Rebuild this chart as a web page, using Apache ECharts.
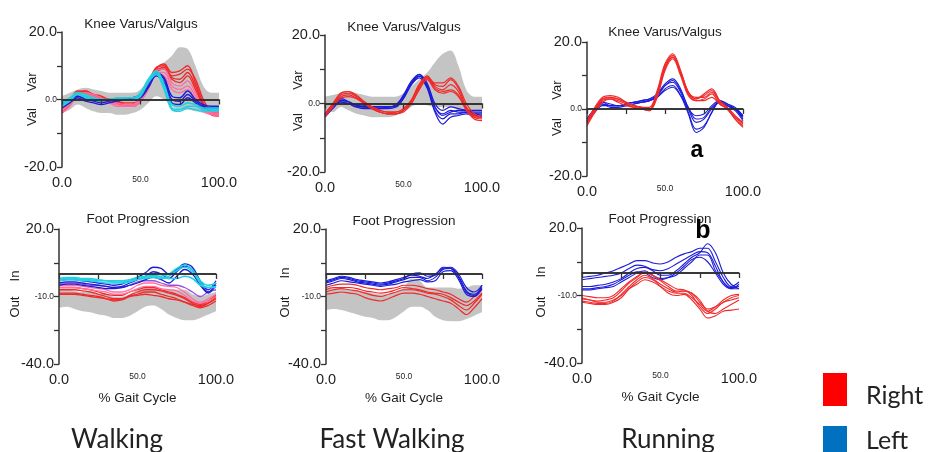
<!DOCTYPE html>
<html><head><meta charset="utf-8">
<script src="https://cdn.jsdelivr.net/npm/echarts@6/dist/echarts.min.js"></script>
<style>html,body{margin:0;padding:0;background:#fff}#c{width:929px;height:452px}</style>
</head><body><div id="c"></div><script>
// % gait cycle sample points
const gaitPct = [0,5,10,15,20,25,30,35,40,45,50,55,60,65,70,75,80,85,90,95,100];

// ---------- Walking: Knee Varus/Valgus ----------
const walkKneeNormUpper = [1,2,3,3.5,3,2.5,2,2,2,2,3,6,9,11,13,15.5,15,10,4,2,2];
const walkKneeNormLower = [-4,-3,-1.5,-2.5,-3.5,-4,-4,-4.5,-4.5,-4,-3,-1,1,0,-2,-3,-3,-3.5,-4,-4.5,-5];
const walkKneeRight = [
  [-3.5,-1,2,2.5,1.5,0.5,0,-0.5,-1.5,-1.5,0,4,9,10.5,8,8.5,10,5,-1,-4,-4.5],
  [-3,-0.5,2.5,2,1,0.5,0,-1,-2,-1.5,0.5,5,9.5,10,7,7.5,9,6,0,-3.5,-4],
  [-4,-1.5,1.5,2,1.5,1,0,-0.5,-1,-1,0,4.5,8.5,9.5,6.5,6,8,4,-1.5,-4,-4],
  [-3,-1,2,2.5,1,0,-0.5,-1,-1.5,-2,-0.5,3.5,8,9,6,5,7,3,-2,-4.5,-5]
];
const walkKneeRightPink = [
  [-3,-1.5,1,1.5,1,0,-1,-1.5,-2,-2,-0.5,3,8,8,4,3,4,1,-3,-4,-4.5],
  [-4,-2,1,1,0.5,-0.5,-1,-2,-2,-2,0,3.5,7.5,7,3,2,3,0,-3.5,-4.5,-5],
  [-3.5,-1,1.5,2,1.5,0.5,-0.5,-1,-1.5,-1.5,0.5,4,8.5,9,5,4,5.5,2,-2.5,-4,-4]
];
const walkKneeLeft = [
  [-2,-0.5,1,0,-0.5,-1,-0.5,0,0,0,1,4,7.5,6,0,-0.5,1.5,-0.5,-2,-2.5,-2.5],
  [-2.5,-1,0.5,-0.5,-1,-1.5,-1,-0.5,0,0,0.5,3.5,7,5,-1,-1.5,0.5,-1,-2.5,-3,-3],
  [-1.5,0,1,0.5,0,-0.5,0,0,0,0.5,1.5,5,8,6.5,1,0.5,2.5,0,-1.5,-2,-2]
];
const walkKneeLeftCyan = [
  [-1.5,0,2,1,0.5,0,0,0,0,0,1.5,5.5,8,4,-2.5,-3,-2,-2,-3,-3,-3],
  [-2,-0.5,1.5,0.5,0,-0.5,0,0,0,0,1,5,7.5,3,-3,-3.5,-2.5,-3,-3.5,-3.5,-3.5],
  [-1,0.5,2,1.5,0.5,0,0,0.5,0.5,0.5,2,6,8.5,4.5,-1.5,-2,-1,-1.5,-2.5,-2.5,-2.5]
];

// ---------- Fast Walking: Knee Varus/Valgus ----------
const fastKneeNormUpper = [2,2.5,3,3.5,3,2.5,2,2,2,2,3,5,7,9,12,14.5,15.5,11,4,2,2];
const fastKneeNormLower = [-2,-2.5,-1,-2,-3,-3.5,-4,-4,-4,-3.5,-2.5,-1,0,-0.5,-1,-1,-1,-2,-3,-3.5,-4];
const fastKneeRight = [
  [-3,0,3,3.5,2.5,0.5,-1,-2.5,-3,-3,-2,0.5,5,8,5.5,5,7,4.5,-1,-3.5,-4],
  [-3.5,-0.5,2.5,3,2,0,-1.5,-2.5,-3,-3,-2,0,4.5,7.5,5,4,5.5,3.5,-1.5,-4,-4.5],
  [-3,-0.5,2,2.5,1.5,0,-1,-2,-2.5,-2.5,-1.5,1,5.5,7.5,4.5,3.5,4,2.5,-1.5,-4,-4],
  [-4,-1,1.5,2,1.5,0,-1.5,-2.5,-3,-3,-2.5,0,4,7,4,3,3.5,2,-2,-4.5,-5],
  [-3,0,3,3.5,2,0.5,-1,-2,-2.5,-2.5,-1.5,1,5.5,8,6,6,7.5,5,0,-3,-4]
];
const fastKneeLeft = [
  [-3,-0.5,1,0.5,-0.5,-1,-1,-1,-1,-0.5,2,6,8.5,6,0,-2,-1,-1.5,-2,-2.5,-2.5],
  [-3.5,-1,0.5,0,-1,-1,-1.5,-1.5,-1,-1,1.5,5.5,8,5,-1,-3,-2,-2.5,-2.5,-3,-3],
  [-3,-0.5,1.5,0.5,-0.5,-0.5,-1,-1,-1,-0.5,2.5,6.5,8.5,5,-2,-4.5,-3,-3,-2.5,-3,-3.5],
  [-4,-1.5,0.5,0,-1,-1.5,-1.5,-1.5,-1.5,-1,1.5,5.5,7.5,4.5,-2.5,-6,-4,-3.5,-3,-3.5,-4],
  [-3,-1,1,0.5,-0.5,-1,-1,-1,-1,-0.5,2,6,8,5.5,-1,-3.5,-2.5,-2,-2,-2,-2]
];

// ---------- Running: Knee Varus/Valgus ----------
const runKneeRight = [
  [-4,0,3,3.5,3,2,1,0.5,0,5,13,16,11,5,3,4,5.5,2,0,-2.5,-4.5],
  [-4.5,-0.5,2.5,3,2.5,1.5,0.5,0,-0.5,4,12,15.5,10.5,4.5,2.5,3,4.5,1.5,0,-3,-5],
  [-3.5,0.5,3.5,4,3.5,2,1,0.5,0.5,5.5,13.5,16.5,11.5,5,3.5,3.5,5,2.5,0.5,-2,-4],
  [-5,-1,2,3,2,1,0.5,0,-0.5,3.5,11.5,15,10,4,2.5,2.5,3.5,1.5,0,-3,-5.5],
  [-4,0,3,3.5,3,2,1,0.5,0,4.5,12.5,15.5,11,5,3,4.5,6,2.5,0,-2.5,-4]
];
const runKneeLeft = [
  [-3,0,2,1,1,1.5,2,2.5,3,4.5,7.5,9,6,0,-4,-3,0,2,1,0,-2.5],
  [-3.5,-0.5,1.5,1,1,1.5,2,2,2.5,4,7,8,5,-1,-6,-5,-1,2.5,1.5,0,-3],
  [-3,0,1.5,0.5,0.5,1,1.5,2,2.5,3.5,6,7,4,-1.5,-7,-5.5,-1,2,1,-0.5,-3.5],
  [-4,-1,1,1,1,1,1.5,2,2.5,3.5,5.5,6.5,4,0,-2,-1.5,1,2.5,1.5,0.5,-2],
  [-3,0,2,1.5,1,1.5,2,2.5,3,4,7,8.5,5.5,0.5,-3,-2.5,0.5,2,1,0,-2]
];

// ---------- Walking: Foot Progression ----------
const walkFootNormUpper = [-7,-7,-7.5,-8,-8,-8.5,-9,-10,-10,-9,-7,-6,-6,-7,-7,-7,-7,-9,-10,-9,-8];
const walkFootNormLower = [-15,-14.5,-15.5,-16.5,-17,-18,-18.5,-19.5,-19.5,-18.5,-16.5,-14.5,-14,-15.5,-18,-19.5,-20.5,-20.5,-19.5,-18,-16.5];
const walkFootRight = [
  [-7,-7,-7,-7.5,-8,-9,-10,-11,-11,-9.5,-8,-7,-7,-7.5,-8.5,-9.5,-11,-13,-14.5,-13,-10.5],
  [-8.5,-8.5,-8.5,-9,-9.5,-10,-11,-12,-11.5,-10,-9,-8,-8,-9,-10,-11,-12.5,-14,-15,-14,-12],
  [-6,-6,-6,-6.5,-7,-8,-9,-9.5,-9.5,-8,-7,-6,-6,-7,-8,-9,-10.5,-12.5,-13.5,-12,-9.5],
  [-9,-9,-9,-9.5,-10,-10.5,-11,-11.5,-11,-10,-9.5,-9,-9.5,-10,-11,-11.5,-12.5,-13.5,-14,-13,-11]
];
const walkFootRightPink = [
  [-5,-5,-5,-5.5,-6,-6.5,-7,-8,-8,-7,-5,-4,-4,-5,-5.5,-6,-8,-11,-12.5,-11,-9],
  [-6,-6,-6,-6.5,-7,-7.5,-8,-9,-9,-8,-6.5,-5.5,-5.5,-6.5,-7,-7.5,-9.5,-12,-13,-12,-10]
];
const walkFootViolet = [
  [-4,-4,-4,-4.5,-5,-5,-5.5,-6,-6,-5,-3.5,-3,-3,-4,-5,-5,-6,-8,-10,-8,-7]
];
const walkFootLeft = [
  [-3,-2.5,-2.5,-3,-3.5,-4,-4.5,-5,-4.5,-3,-1.5,0.5,3,2.5,0,2,4.5,3,-3,-7,-3],
  [-4,-3.5,-3.5,-4,-4.5,-5,-5.5,-6,-5.5,-4,-2.5,-1,1,0,-2,1,3.5,2,-4,-8,-4],
  [-5,-4.5,-4.5,-5,-5.5,-6,-6.5,-6.5,-6,-5,-4,-2.5,-1.5,-2.5,-4,-1,2,0,-5,-8.5,-5]
];
const walkFootLeftCyan = [
  [-2,-1.5,-1.5,-2,-2,-2.5,-3,-3,-3,-2.5,-1.5,-1,-0.5,-1,0,2.5,4,2,-3,-5,-4],
  [-3,-2.5,-2.5,-3,-3,-3.5,-4,-4,-4,-3.5,-2.5,-2,-1.5,-2,-1,1.5,3,1,-4,-6,-5.5],
  [-2.5,-2,-2,-2.5,-2.5,-3,-3,-3.5,-3.5,-3,-2,-1.5,-1,-1.5,-2,-2,-1,-2,-5,-6,-6]
];

// ---------- Fast Walking: Foot Progression ----------
const fastFootNormUpper = [-6,-6,-6.5,-7,-7.5,-8,-8.5,-9,-9,-8,-6,-2,-3,-6,-6,-6,-6,-6.5,-6,-5,-5];
const fastFootNormLower = [-16,-15.5,-16,-17,-18,-19,-19.5,-20.5,-20.5,-19,-16.5,-14.5,-14.5,-16,-19,-20.5,-21,-21,-20,-18.5,-17];
const fastFootRight = [
  [-6,-5,-4.5,-4.5,-5,-6,-6.5,-7,-6.5,-6,-5,-5,-5.5,-6.5,-7,-8,-9,-11,-12.5,-10,-7],
  [-8,-7,-6.5,-7,-7.5,-8.5,-9.5,-10,-9,-8,-7,-7,-7.5,-8.5,-9,-10,-11.5,-14,-16,-13,-9],
  [-9,-8.5,-8,-8.5,-9,-10.5,-11.5,-12,-11,-9.5,-8.5,-8.5,-9,-10,-11,-12,-13,-15.5,-18,-15,-11],
  [-7,-6,-6,-6,-6.5,-7.5,-8,-8.5,-8,-7,-6,-6.5,-7,-8,-8.5,-9,-10.5,-12.5,-14,-12,-8.5]
];
const fastFootLeft = [
  [-3,-2,-1,-1.5,-2.5,-3,-3.5,-4,-3.5,-2.5,-1.5,-0.5,-1,-2,0,2.5,3,0,-6,-8,-5],
  [-4,-3,-2,-2.5,-3.5,-4,-4.5,-5,-4.5,-3.5,-2.5,-1.5,-1.5,-3,-1.5,2,2.5,-1,-7.5,-9,-6],
  [-3.5,-2.5,-1.5,-2,-3,-3.5,-4,-4.5,-4,-3,-2,0,0.5,-1,-0.5,3,2.5,-1.5,-8,-9.5,-5],
  [-5,-4,-3,-3.5,-4,-4.5,-5,-5.5,-5,-4.5,-3.5,-3,-2.5,-3.5,-3,1,1.5,-2.5,-9,-10,-6.5]
];

// ---------- Running: Foot Progression ----------
const runFootRight = [
  [-10,-10.5,-11,-11,-10,-7,-4,-1.5,0,-1,-3,-5,-7,-7.5,-9,-13,-16,-15,-13,-11,-10],
  [-11,-12,-12.5,-12,-11,-8,-4.5,-2,0.5,-1,-3.5,-6,-8,-8,-10,-15,-18,-16,-13,-12,-11],
  [-12.5,-13,-13.5,-13.5,-12.5,-9.5,-6,-3,-1,-2.5,-5,-7,-8.5,-8,-9,-12,-17,-18,-16,-14,-12],
  [-13,-13.5,-14,-14,-13,-11,-7,-4,-2,-3,-6,-9,-10,-9.5,-12,-16,-20,-19,-17,-16.5,-16],
  [-11.5,-12,-13,-13,-12,-10,-7,-5,-3,-4,-6,-8,-9,-9,-11,-14,-17,-15,-12,-10,-9.5]
];
const runFootLeft = [
  [-2,-1.5,-1,0,1,2.5,4,5.5,5.5,4.5,4,5,7,8.5,9.5,11,11,5,-2,-6,-4],
  [-3,-2.5,-2,-1.5,-1,0,2,3.5,3,1.5,1,2,4,6,8,9.5,9,3,-4,-6.5,-6],
  [-6,-6,-5.5,-5,-4,-2.5,0,2,2.5,1,-1,-1,1,4,7,9,13,9,0,-5,-7],
  [-7,-7,-6.5,-6,-5,-3,-1,0.5,0,-2,-3,-2,0,3,6,7,5,0,-5,-7,-7],
  [-7.5,-7.5,-7,-6.5,-6,-4,-2,0,1,-1,-2.5,-2,-1,2,5,8,8,1,-4,-7,-5]
];

// ---------- Text ----------
const panelTitles = ['Knee Varus/Valgus','Knee Varus/Valgus','Knee Varus/Valgus','Foot Progression','Foot Progression','Foot Progression'];
const conditionLabels = ['Walking','Fast Walking','Running'];
const legendLabels = ['Right','Left'];
const footTickValues = [-40,-25,-10,5,20];
const footLabelValues = [-40,-10,20];

// ---------- Build ----------
const C = {red:'#f02a2a', pink:'#ff6f9f', blue:'#1c1cd8', cyan:'#22d0e0', violet:'#9a4ee0', band:'#c4c4c4', axis:'#333', text:'#1e1e1e'};
const grids = [
  {left:62, top:32, width:157, height:135},
  {left:325, top:35, width:157, height:137},
  {left:587, top:42, width:156, height:134},
  {left:59, top:229, width:157, height:135},
  {left:326, top:229, width:156, height:135},
  {left:582, top:228, width:157, height:135}
];
const pairs = arr => gaitPct.map((x,i)=>[x,arr[i]]);
const rich = {b:{fontSize:14.5, color:C.text, fontFamily:'Liberation Sans'}, s:{fontSize:8.5, color:C.text, fontFamily:'Liberation Sans'}};
const fmtNum = v => v.toFixed(1);

const xAxes = [], yAxes = [], series = [];
grids.forEach((g,i)=>{
  const foot = i>=3;
  xAxes.push({
    gridIndex:i, type:'value', min:0, max:100, interval:25, z:5,
    axisLine:{show:true, lineStyle:{color:C.axis, width:1.5}},
    axisTick:{show:true, length:5, lineStyle:{color:C.axis, width:1.3}},
    splitLine:{show:false},
    axisLabel:{margin:8, showMinLabel:true, showMaxLabel:true, hideOverlap:false, rich,
      formatter: v => v===50 ? '{s|'+fmtNum(v)+'}' : (v===0||v===100 ? '{b|'+fmtNum(v)+'}' : '')},
    name: foot ? '% Gait Cycle' : '', nameLocation:'middle', nameGap:27,
    nameTextStyle:{fontSize:13.5, color:C.text, fontFamily:'Liberation Sans'}
  });
  const y = {
    gridIndex:i, type:'value', min: foot?-40:-20, max:20, z:5,
    axisLine:{show:true, onZero:false, lineStyle:{color:C.axis, width:1.5}},
    axisTick:{show:true, length:5, lineStyle:{color:C.axis, width:1.3}},
    splitLine:{show:false},
    axisLabel:{margin:5, showMinLabel:true, showMaxLabel:true, hideOverlap:false, rich,
      formatter: v => {
        if (foot) return v===-10 ? '{s|'+fmtNum(v)+'}' : '{b|'+fmtNum(v)+'}';
        if (v===0) return '{s|'+fmtNum(v)+'}';
        if (v===20||v===-20) return '{b|'+fmtNum(v)+'}';
        return '';
      }}
  };
  if (foot) { y.axisTick.customValues = footTickValues; y.axisLabel.customValues = footLabelValues; }
  else { y.interval = 10; }
  yAxes.push(y);
});

const zeroLine = {silent:true, symbol:'none', label:{show:false}, lineStyle:{color:'#111', width:1.5, type:'solid'}, data:[{yAxis:0}], animation:false};
const gridHasZero = {};
// normative band: grey area from the upper edge down, white area from the lower edge down (both under the axes)
function addBand(gi, upper, lower){
  series.push({type:'line', xAxisIndex:gi, yAxisIndex:gi, data:pairs(upper), smooth:0.35, symbol:'none',
    lineStyle:{width:0, opacity:0}, areaStyle:{color:C.band, opacity:1, origin:'start'}, z:1, silent:true});
  series.push({type:'line', xAxisIndex:gi, yAxisIndex:gi, data:pairs(lower), smooth:0.35, symbol:'none',
    lineStyle:{width:0, opacity:0}, areaStyle:{color:'#ffffff', opacity:1, origin:'start'}, z:1, silent:true});
}
function addLines(gi, traces, color, width){
  traces.forEach(t=>{
    const s = {type:'line', xAxisIndex:gi, yAxisIndex:gi, data:pairs(t), smooth:0.35, symbol:'none',
      lineStyle:{color, width:width||1.2}, z:3, silent:true};
    if (!gridHasZero[gi]) { s.markLine = zeroLine; gridHasZero[gi]=true; }
    series.push(s);
  });
}

addBand(0, walkKneeNormUpper, walkKneeNormLower);
addLines(0, walkKneeRight, C.red, 1.4);
addLines(0, walkKneeRightPink, C.pink, 1.4);
addLines(0, walkKneeLeft, C.blue, 1.4);
addLines(0, walkKneeLeftCyan, C.cyan, 1.6);

addBand(1, fastKneeNormUpper, fastKneeNormLower);
addLines(1, fastKneeLeft, C.blue, 1.2);
addLines(1, fastKneeRight, C.red, 1.2);

addLines(2, runKneeLeft, C.blue, 1.1);
addLines(2, runKneeRight, C.red, 1.2);

addBand(3, walkFootNormUpper, walkFootNormLower);
addLines(3, walkFootRight, C.red, 1.3);
addLines(3, walkFootRightPink, C.pink, 1.3);
addLines(3, walkFootViolet, C.violet, 1.3);
addLines(3, walkFootLeft, C.blue, 1.3);
addLines(3, walkFootLeftCyan, C.cyan, 1.5);

addBand(4, fastFootNormUpper, fastFootNormLower);
addLines(4, fastFootRight, C.red, 1.2);
addLines(4, fastFootLeft, C.blue, 1.2);

addLines(5, runFootLeft, C.blue, 1.1);
addLines(5, runFootRight, C.red, 1.1);

// free text
const T = (text, x, y, size, opts) => Object.assign({type:'text', x, y, z:100, silent:true,
  style:Object.assign({text, fill:C.text, fontSize:size, fontFamily:'Liberation Sans',
    align:'center', verticalAlign:'middle', textAlign:'center', textVerticalAlign:'middle'}, (opts&&opts.style)||{})},
  opts&&opts.el||{});
const rot = {el:{rotation:Math.PI/2}};
const graphics = [
  T(panelTitles[0],141,24,13.5), T(panelTitles[1],404,27,13.5), T(panelTitles[2],665,32,13.5),
  T(panelTitles[3],138,219,13.5), T(panelTitles[4],404,221,13.5), T(panelTitles[5],660,219,13.5),
  T('Var',32,82,13,rot), T('Val',32,117,13,rot),
  T('Var',298,80,13,rot), T('Val',298,122,13,rot),
  T('Var',557,90,13,rot), T('Val',557,127,13,rot),
  T('In',15,276,13,rot), T('Out',15,307,13,rot),
  T('In',285,273,13,rot), T('Out',285,307,13,rot),
  T('In',541,272,13,rot), T('Out',541,307,13,rot),
  T('a',697,151,23,{style:{fontWeight:'bold', fill:'#000'}}),
  T('b',703,231,25,{style:{fontWeight:'bold', fill:'#000'}}),
  T(conditionLabels[0],117,440,26,{style:{fontFamily:'Lato', fill:'#222'}}),
  T(conditionLabels[1],392,440,26,{style:{fontFamily:'Lato', fill:'#222'}}),
  T(conditionLabels[2],668,440,26,{style:{fontFamily:'Lato', fill:'#222'}}),
  {type:'rect', shape:{x:823, y:373, width:24, height:33}, style:{fill:'#ff0000'}, z:100, silent:true},
  {type:'rect', shape:{x:823, y:426, width:24, height:30}, style:{fill:'#0070c0'}, z:100, silent:true},
  T(legendLabels[0],866,396,25,{style:{fontFamily:'Lato', fill:'#222', align:'left', textAlign:'left'}}),
  T(legendLabels[1],866,441,25,{style:{fontFamily:'Lato', fill:'#222', align:'left', textAlign:'left'}})
];

const chart = echarts.init(document.getElementById('c'), null, {renderer:'canvas'});
chart.setOption({
  animation:false,
  backgroundColor:'#fff',
  grid: grids.map(g=>Object.assign({containLabel:false}, g)),
  xAxis: xAxes, yAxis: yAxes, series, graphic: graphics
});
</script></body></html>
